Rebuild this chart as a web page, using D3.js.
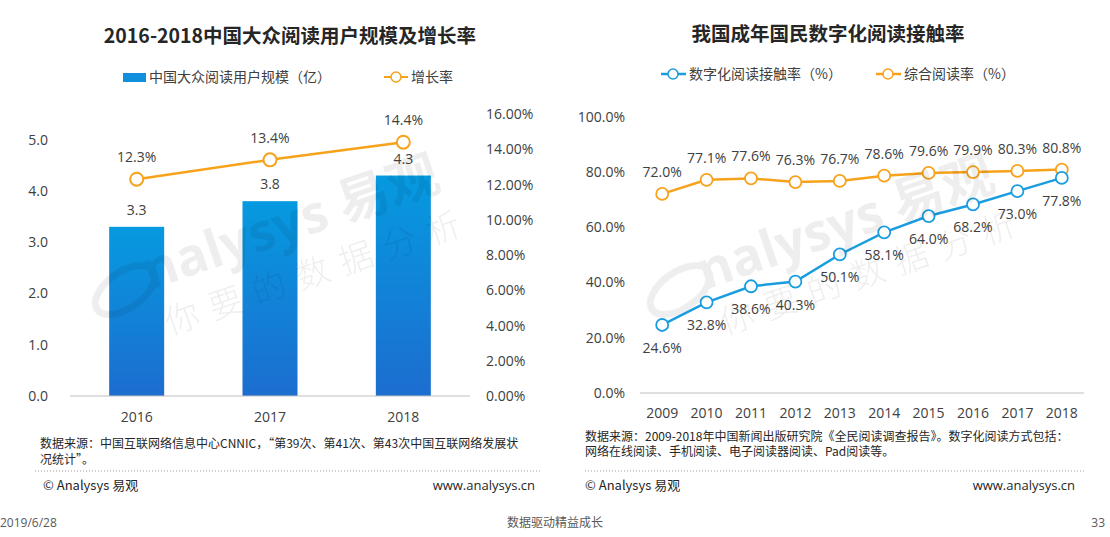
<!DOCTYPE html>
<html>
<head>
<meta charset="utf-8">
<script src="https://cdn.jsdelivr.net/npm/d3@7"></script>
<style>
  body { margin: 0; background: #fff; }
  svg text { font-family: "Segoe UI", "Open Sans", "Noto Sans CJK SC", sans-serif; fill: #404040; }
  .cn { font-family: "Noto Sans CJK SC", sans-serif; }
</style>
</head>
<body>
<div id="page"></div>
<script>
// data
var userYears = ["2016", "2017", "2018"];
var userScale = [3.3, 3.8, 4.3];           // 亿
var userGrowth = [12.3, 13.4, 14.4];       // %
var leftTicks = [0, 1, 2, 3, 4, 5];
var growthTicks = [0, 2, 4, 6, 8, 10, 12, 14, 16];

var readYears = ["2009", "2010", "2011", "2012", "2013", "2014", "2015", "2016", "2017", "2018"];
var digitalRate = [24.6, 32.8, 38.6, 40.3, 50.1, 58.1, 64.0, 68.2, 73.0, 77.8];
var overallRate = [72.0, 77.1, 77.6, 76.3, 76.7, 78.6, 79.6, 79.9, 80.3, 80.8];
var rateTicks = [0, 20, 40, 60, 80, 100];

var W = 1110, H = 537;
var orange = "#f7a21b", blue = "#1a9de0";

var svg = d3.select("#page").append("svg")
    .attr("width", W).attr("height", H);

svg.append("rect").attr("width", W).attr("height", H).attr("fill", "#fff");

var defs = svg.append("defs");
var grad = defs.append("linearGradient").attr("id", "barGrad")
    .attr("x1", 0).attr("y1", 0).attr("x2", 0).attr("y2", 1);
grad.append("stop").attr("offset", "0%").attr("stop-color", "#069ae0");
grad.append("stop").attr("offset", "100%").attr("stop-color", "#1c6dcf");

// ---------- left chart ----------
var left = svg.append("g");

left.append("text").attr("class", "cn")
    .attr("x", 290).attr("y", 43)
    .attr("text-anchor", "middle")
    .style("font-size", "19.5px").style("font-weight", "bold").style("fill", "#262626")
    .text("2016-2018中国大众阅读用户规模及增长率");

// legend
left.append("rect").attr("x", 123).attr("y", 73).attr("width", 23).attr("height", 9).attr("fill", "#0f8fdc");
left.append("text").attr("class", "cn").attr("x", 149).attr("y", 82)
    .style("font-size", "14px").text("中国大众阅读用户规模（亿）");
left.append("line").attr("x1", 384).attr("x2", 408).attr("y1", 77).attr("y2", 77)
    .attr("stroke", orange).attr("stroke-width", 2);
left.append("circle").attr("cx", 396).attr("cy", 77).attr("r", 5)
    .attr("fill", "#fff").attr("stroke", orange).attr("stroke-width", 1.5);
left.append("text").attr("class", "cn").attr("x", 411).attr("y", 82)
    .style("font-size", "14px").text("增长率");

var x1 = d3.scaleBand().domain(userYears).range([70, 470])
    .paddingInner(0.5875).paddingOuter(0.29375);
var yL = d3.scaleLinear().domain([0, 5.5]).range([396, 114]);
var yR = d3.scaleLinear().domain([0, 16]).range([396, 114]);

left.selectAll(".ytl").data(leftTicks).enter().append("text")
    .attr("x", 48).attr("y", function(d) { return yL(d) + 5; })
    .attr("text-anchor", "end").style("font-size", "14px")
    .text(function(d) { return d.toFixed(1); });

left.selectAll(".ytr").data(growthTicks).enter().append("text")
    .attr("x", 486).attr("y", function(d) { return yR(d) + 5; })
    .style("font-size", "14px")
    .text(function(d) { return d.toFixed(2) + "%"; });

left.selectAll(".bar").data(userScale).enter().append("rect")
    .attr("x", function(d, i) { return x1(userYears[i]); })
    .attr("y", function(d) { return yL(d); })
    .attr("width", x1.bandwidth())
    .attr("height", function(d) { return yL(0) - yL(d); })
    .attr("fill", "url(#barGrad)");

left.append("line").attr("x1", 70).attr("x2", 470)
    .attr("y1", yL(0)).attr("y2", yL(0))
    .attr("stroke", "#bfbfbf").attr("stroke-width", 1);

left.selectAll(".xl").data(userYears).enter().append("text")
    .attr("x", function(d) { return x1(d) + x1.bandwidth() / 2; })
    .attr("y", 422).attr("text-anchor", "middle").style("font-size", "14px")
    .text(function(d) { return d; });

left.selectAll(".bl").data(userScale).enter().append("text")
    .attr("x", function(d, i) { return x1(userYears[i]) + x1.bandwidth() / 2; })
    .attr("y", function(d) { return yL(d) - 12; })
    .attr("text-anchor", "middle").style("font-size", "14px")
    .text(function(d) { return d.toFixed(1); });

var cx1 = function(d, i) { return x1(userYears[i]) + x1.bandwidth() / 2; };
left.append("path").datum(userGrowth)
    .attr("d", d3.line().x(cx1).y(function(d) { return yR(d); }))
    .attr("fill", "none").attr("stroke", orange).attr("stroke-width", 2.5);
left.selectAll(".gp").data(userGrowth).enter().append("circle")
    .attr("cx", cx1).attr("cy", function(d) { return yR(d); }).attr("r", 6.5)
    .attr("fill", "#fff").attr("stroke", orange).attr("stroke-width", 2);
left.selectAll(".gl").data(userGrowth).enter().append("text")
    .attr("x", cx1).attr("y", function(d) { return yR(d) - 17; })
    .attr("text-anchor", "middle").style("font-size", "14px")
    .text(function(d) { return d.toFixed(1) + "%"; });

// ---------- right chart ----------
var right = svg.append("g");

right.append("text").attr("class", "cn")
    .attr("x", 828).attr("y", 41)
    .attr("text-anchor", "middle")
    .style("font-size", "19.5px").style("font-weight", "bold").style("fill", "#262626")
    .text("我国成年国民数字化阅读接触率");

right.append("line").attr("x1", 661).attr("x2", 686).attr("y1", 74).attr("y2", 74)
    .attr("stroke", blue).attr("stroke-width", 2.5);
right.append("circle").attr("cx", 673).attr("cy", 74).attr("r", 5)
    .attr("fill", "#fff").attr("stroke", blue).attr("stroke-width", 1.5);
right.append("text").attr("class", "cn").attr("x", 689).attr("y", 79)
    .style("font-size", "14px").text("数字化阅读接触率（%）");
right.append("line").attr("x1", 876).attr("x2", 901).attr("y1", 74).attr("y2", 74)
    .attr("stroke", orange).attr("stroke-width", 2.5);
right.append("circle").attr("cx", 888).attr("cy", 74).attr("r", 5)
    .attr("fill", "#fff").attr("stroke", orange).attr("stroke-width", 1.5);
right.append("text").attr("class", "cn").attr("x", 904).attr("y", 79)
    .style("font-size", "14px").text("综合阅读率（%）");

var x2 = d3.scaleBand().domain(readYears).range([640, 1084]);
var y2 = d3.scaleLinear().domain([0, 100]).range([393, 116.5]);
var cx2 = function(d, i) { return x2(readYears[i]) + x2.bandwidth() / 2; };

right.selectAll(".yt").data(rateTicks).enter().append("text")
    .attr("x", 625).attr("y", function(d) { return y2(d) + 5; })
    .attr("text-anchor", "end").style("font-size", "14px")
    .text(function(d) { return d.toFixed(1) + "%"; });

right.append("line").attr("x1", 640).attr("x2", 1084)
    .attr("y1", y2(0)).attr("y2", y2(0))
    .attr("stroke", "#bfbfbf").attr("stroke-width", 1);

right.selectAll(".xt").data(readYears).enter().append("text")
    .attr("x", function(d) { return x2(d) + x2.bandwidth() / 2; })
    .attr("y", 418).attr("text-anchor", "middle").style("font-size", "14px")
    .text(function(d) { return d; });

function drawSeries(vals, color, dy) {
    right.append("path").datum(vals)
        .attr("d", d3.line().x(cx2).y(function(d) { return y2(d); }))
        .attr("fill", "none").attr("stroke", color).attr("stroke-width", 2.5);
    right.append("g").selectAll("circle").data(vals).enter().append("circle")
        .attr("cx", cx2).attr("cy", function(d) { return y2(d); }).attr("r", 6)
        .attr("fill", "#fff").attr("stroke", color).attr("stroke-width", 1.8);
    right.append("g").selectAll("text").data(vals).enter().append("text")
        .attr("x", cx2).attr("y", function(d) { return y2(d) + dy; })
        .attr("text-anchor", "middle").style("font-size", "14px")
        .text(function(d) { return d.toFixed(1) + "%"; });
}
drawSeries(overallRate, orange, -17);
drawSeries(digitalRate, blue, 28);

// ---------- watermark ----------
[0, 555].forEach(function(dx) {
    var wm = svg.append("g").attr("transform", "translate(" + dx + ",0)")
        .style("pointer-events", "none").style("opacity", 0.07);
    // swoosh standing in for the "A" of the logo
    wm.append("ellipse")
        .attr("transform", "translate(125,290) rotate(-35)")
        .attr("rx", 34).attr("ry", 18)
        .attr("fill", "none").attr("stroke", "#000").attr("stroke-width", 7);
    wm.append("text")
        .attr("transform", "translate(150,290) rotate(-19)")
        .style("font-size", "52px").style("font-weight", "bold").style("fill", "#000")
        .attr("font-family", "Verdana, 'DejaVu Sans', sans-serif")
        .text("nalysys 易观");
    wm.append("text").attr("class", "cn")
        .attr("transform", "translate(170,335) rotate(-19)")
        .style("font-size", "34px").style("letter-spacing", "12px").style("fill", "#000")
        .style("font-weight", "300")
        .text("你要的数据分析");
});

// ---------- footers ----------
var small = "12px";
left.append("text").attr("class", "cn").attr("x", 40).attr("y", 448).style("font-size", small).style("fill", "#262626")
    .text("数据来源：中国互联网络信息中心CNNIC，“第39次、第41次、第43次中国互联网络发展状");
left.append("text").attr("class", "cn").attr("x", 40).attr("y", 464).style("font-size", small).style("fill", "#262626")
    .text("况统计”。");
right.append("text").attr("class", "cn").attr("x", 585).attr("y", 441).style("font-size", small).style("fill", "#262626")
    .text("数据来源：2009-2018年中国新闻出版研究院《全民阅读调查报告》。数字化阅读方式包括：");
right.append("text").attr("class", "cn").attr("x", 585).attr("y", 456).style("font-size", small).style("fill", "#262626")
    .text("网络在线阅读、手机阅读、电子阅读器阅读、Pad阅读等。");

[[35, 540], [585, 1085]].forEach(function(s) {
    svg.append("line").attr("x1", s[0]).attr("x2", s[1]).attr("y1", 471).attr("y2", 471)
        .attr("stroke", "#9a9a9a").attr("stroke-width", 1).attr("stroke-dasharray", "1,2");
});

[[43, 535], [585, 1075]].forEach(function(s) {
    svg.append("text").attr("class", "cn").attr("x", s[0]).attr("y", 490)
        .style("font-size", "13px").style("fill", "#262626").text("© Analysys 易观");
    svg.append("text").attr("x", s[1]).attr("y", 490).attr("text-anchor", "end")
        .style("font-size", "13px").style("fill", "#262626").text("www.analysys.cn");
});

svg.append("text").attr("x", 0).attr("y", 527).style("font-size", "12px").style("fill", "#595959").text("2019/6/28");
svg.append("text").attr("class", "cn").attr("x", 555).attr("y", 527).attr("text-anchor", "middle")
    .style("font-size", "12px").style("fill", "#595959").text("数据驱动精益成长");
svg.append("text").attr("x", 1105).attr("y", 527).attr("text-anchor", "end")
    .style("font-size", "12px").style("fill", "#595959").text("33");
</script>
</body>
</html>
